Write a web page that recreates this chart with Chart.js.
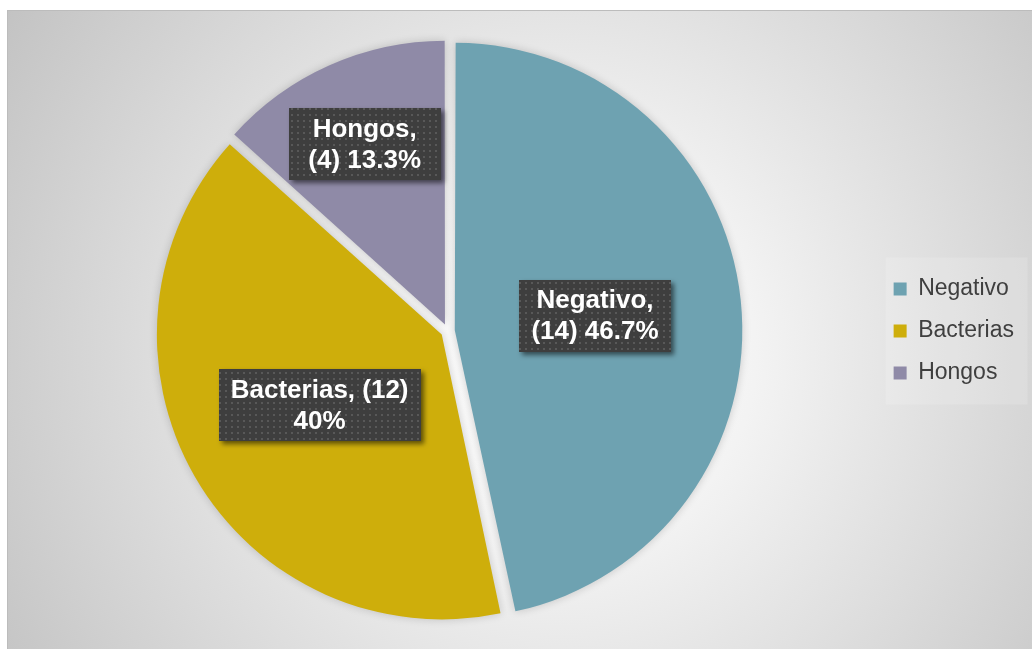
<!DOCTYPE html>
<html>
<head>
<meta charset="utf-8">
<script src="https://cdn.jsdelivr.net/npm/chart.js@4"></script>
<style>
  html, body { margin: 0; padding: 0; background: #fff; }
  #wrap {
    position: absolute; left: 7px; top: 10px; width: 1025px; height: 639px;
    background: radial-gradient(circle farthest-corner at 54% 54%, #ffffff 0%, #f3f3f3 30%, #c3c3c3 100%);
    box-shadow: inset 1px 1px 0 #bcbcbc;
  }
</style>
</head>
<body>
<div id="wrap"><canvas id="pie-chart"></canvas></div>
<script>
const categories = ["Negativo", "Bacterias", "Hongos"];
const counts = [14, 12, 4];
const percents = ["46.7", "40", "13.3"];

const colors = ["#6ea2b1", "#ceae0b", "#8f8aa7"];
// words on the first label line, and how far out (share of radius) each label sits
const breakAfter = [1, 2, 1];
const labelRadius = [0.5, 0.5, 0.7];
const labelFont = 'bold 26px "Liberation Sans", Arial, sans-serif';

// dark dotted fill used by Excel's label boxes
const dots = document.createElement('canvas');
dots.width = 6; dots.height = 6;
(function () {
  const c = dots.getContext('2d');
  c.fillStyle = '#3e3e3e'; c.fillRect(0, 0, 6, 6);
  c.fillStyle = '#585858'; c.fillRect(2, 2, 2, 2);
})();

const pieShadow = {
  id: 'pieShadow',
  beforeDatasetsDraw(chart) {
    const ctx = chart.ctx;
    ctx.save();
    ctx.shadowColor = 'rgba(0,0,0,0.18)';
    ctx.shadowBlur = 8;
  },
  afterDatasetsDraw(chart) { chart.ctx.restore(); }
};

const legendPanel = {
  id: 'legendPanel',
  beforeDraw(chart) {
    const hb = chart.legend.legendHitBoxes;
    if (!hb || !hb.length) return;
    const ctx = chart.ctx;
    const last = hb[hb.length - 1];
    const top = hb[0].top - 20;
    ctx.save();
    ctx.fillStyle = 'rgba(255,255,255,0.15)';
    ctx.fillRect(hb[0].left - 8, top, 142, last.top + last.height + 20 - top);
    ctx.restore();
  }
};

const labelBoxes = {
  id: 'labelBoxes',
  afterDatasetsDraw(chart) {
    const ctx = chart.ctx;
    const meta = chart.getDatasetMeta(0);
    ctx.save();
    ctx.font = labelFont;
    ctx.textAlign = 'center';
    ctx.textBaseline = 'middle';
    meta.data.forEach((arc, i) => {
      const p = arc.getProps(['x', 'y', 'startAngle', 'endAngle', 'outerRadius']);
      const mid = (p.startAngle + p.endAngle) / 2;
      const r = arc.options.offset / 4 + p.outerRadius * labelRadius[i];
      const cx = p.x + Math.cos(mid) * r;
      const cy = p.y + Math.sin(mid) * r;
      const words = (categories[i] + ', (' + counts[i] + ') ' + percents[i] + '%').split(' ');
      const lines = [words.slice(0, breakAfter[i]).join(' '), words.slice(breakAfter[i]).join(' ')];
      const w = Math.max(152, Math.max(...lines.map(l => ctx.measureText(l).width)) + 24);
      const h = lines.length * 31 + 10;
      ctx.save();
      ctx.shadowColor = 'rgba(0,0,0,0.55)';
      ctx.shadowBlur = 5;
      ctx.shadowOffsetX = 3;
      ctx.shadowOffsetY = 3;
      ctx.fillStyle = ctx.createPattern(dots, 'repeat');
      ctx.fillRect(Math.round(cx - w / 2), Math.round(cy - h / 2), Math.round(w), h);
      ctx.restore();
      ctx.fillStyle = '#ffffff';
      lines.forEach((l, k) => ctx.fillText(l, cx, cy + (k - (lines.length - 1) / 2) * 31 + 1));
    });
    ctx.restore();
  }
};

new Chart(document.getElementById('pie-chart'), {
  type: 'pie',
  data: {
    labels: categories,
    datasets: [{
      data: counts,
      backgroundColor: colors,
      borderWidth: 0,
      offset: 28
    }]
  },
  options: {
    responsive: true,
    maintainAspectRatio: false,
    animation: false,
    events: [],
    layout: { padding: { left: 14, top: 25, bottom: 22, right: 8 } },
    plugins: {
      tooltip: { enabled: false },
      legend: {
        position: 'right',
        labels: {
          boxWidth: 13,
          boxHeight: 13,
          padding: 19,
          color: '#3f3f3f',
          font: { size: 23, family: '"Liberation Sans", Arial, sans-serif' }
        }
      }
    }
  },
  plugins: [legendPanel, pieShadow, labelBoxes]
});
</script>
</body>
</html>
